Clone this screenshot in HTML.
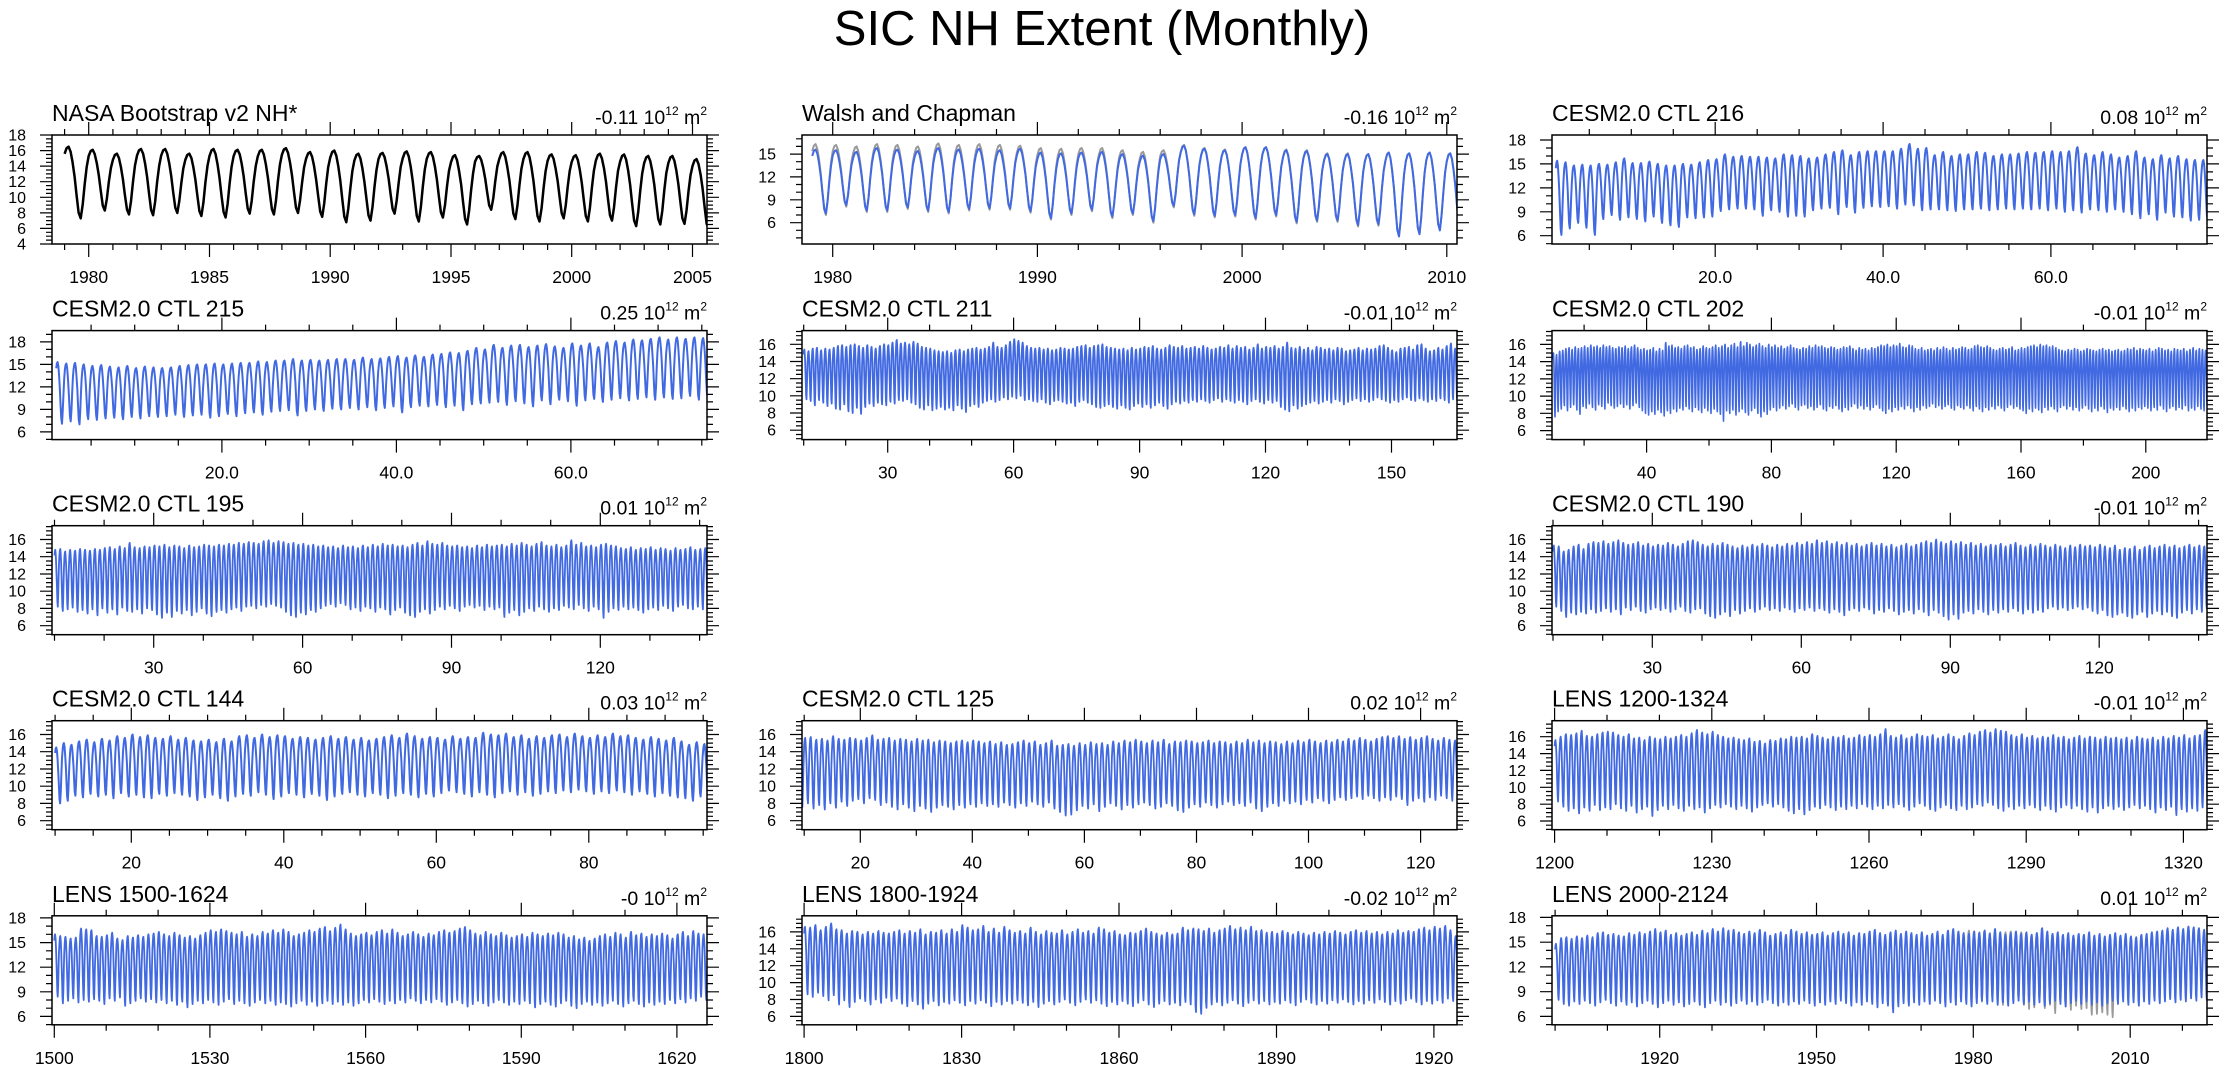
<!DOCTYPE html>
<html><head><meta charset="utf-8"><title>SIC NH Extent (Monthly)</title>
<style>
html,body{margin:0;padding:0;background:#fff;}
svg{display:block;font-family:"Liberation Sans",Arial,sans-serif;}
</style></head>
<body>
<svg id="chart" xmlns="http://www.w3.org/2000/svg" width="2229" height="1073" viewBox="0 0 2229 1073">
<text x="1102" y="45" font-size="49" text-anchor="middle">SIC NH Extent (Monthly)</text>
</svg>
<script>
// seasonal climatology fraction (Jan..Dec), 1 = annual max, 0 = annual min
const seasonShape=[0.90,0.98,1.0,0.93,0.78,0.58,0.32,0.08,0.0,0.2,0.5,0.75];

const nasaMax=[16.5,16.1,15.6,16.2,16.2,15.6,16.2,16.1,16.1,16.3,15.8,16.0,15.6,15.7,15.9,15.8,15.4,15.3,15.8,15.8,15.5,15.4,15.6,15.5,15.3,15.3,14.9];
const nasaMin=[7.3,8.3,7.8,7.7,8.0,7.6,7.4,7.9,7.8,8.0,7.5,6.8,7.0,7.9,6.9,7.4,6.5,8.4,7.2,6.9,7.3,6.9,7.0,6.3,6.5,6.6,5.9];

const walshMax=[15.6,15.5,15.3,15.8,15.6,15.4,15.8,15.6,15.7,15.5,15.7,15.2,15.1,15.2,15.3,15.0,14.8,15.0,16.1,15.7,15.5,15.9,15.9,15.5,15.4,15.0,15.0,15.0,15.2,15.1,15.2,15.1];
const walshMin=[7.2,8.3,7.6,7.6,8.0,7.6,7.4,7.8,7.9,7.9,7.5,6.6,7.2,7.7,6.8,7.2,6.2,8.2,7.1,6.9,7.0,6.6,7.0,6.1,6.3,6.3,5.7,5.8,4.2,4.5,5.0,5.0];
const walshRefMax=[16.3,16.2,16.0,16.3,16.2,16.0,16.4,16.2,16.3,16.2,16.1,15.8,15.7,15.8,15.8,15.5,15.3,15.5,16.2,15.8,15.6,15.9,15.9,15.6,15.5,15.1,15.1,15.0,15.2,15.1,15.2,15.1];
const walshRefMin=[7.0,8.1,7.4,7.4,7.8,7.4,7.2,7.6,7.7,7.7,7.3,6.4,7.0,7.5,6.6,7.0,6.0,8.0,6.9,6.7,6.8,6.4,6.8,5.9,6.1,6.1,5.5,5.6,4.2,4.5,5.0,5.0];

const ctl216Max=[15.4,15.2,14.8,14.9,14.8,15.0,14.9,15.2,15.7,15.1,
15.1,15.3,15.0,14.8,14.8,15.0,14.9,15.2,15.5,15.6,
16.2,15.9,16.0,15.9,15.9,15.8,15.7,16.2,16.1,16.0,
15.7,15.8,16.2,16.5,16.7,16.1,16.5,16.6,16.6,16.6,
16.6,16.9,17.5,16.9,17.0,16.1,16.5,16.0,16.2,16.2,
16.5,16.4,16.0,16.2,16.2,16.3,16.5,16.4,16.5,16.6,
16.5,16.6,17.1,16.3,16.1,16.5,16.2,15.8,16.0,16.6,
15.8,15.6,16.1,15.7,16.0,15.6,15.5,15.5];
const ctl216Min=[6.1,6.9,7.6,7.0,6.1,8.1,8.6,8.0,8.3,8.1,
7.8,8.4,7.6,7.3,7.1,8.3,8.2,8.3,8.4,9.1,
9.3,9.4,9.4,9.3,8.5,9.2,9.0,8.4,8.5,8.4,
9.2,9.4,9.5,8.7,9.6,8.9,9.5,9.7,9.6,9.7,
9.4,9.9,9.8,9.2,9.3,9.3,9.2,9.1,9.3,9.3,
9.4,9.2,9.3,9.4,9.3,9.4,9.3,9.4,9.2,9.4,
9.0,9.2,8.9,9.3,9.2,9.0,9.3,9.0,8.7,8.2,
8.7,8.0,8.9,8.4,8.3,7.9,8.0,8.0];

const ctl215Max=[15.3,15.1,15.2,15.0,14.8,14.9,14.7,14.6,14.8,14.5,
14.7,14.6,14.5,14.6,14.8,14.9,15.0,15.0,15.1,15.0,
15.1,15.2,15.2,15.4,15.3,15.5,15.5,15.7,15.5,15.6,
15.5,15.6,15.7,15.7,15.6,15.9,15.7,15.8,16.0,16.1,
15.9,16.2,16.0,16.3,16.4,16.6,16.5,16.8,17.2,17.0,
17.6,17.2,17.5,17.6,17.3,17.5,17.7,17.4,17.2,17.8,
17.5,17.8,17.3,17.9,18.1,17.9,18.3,18.2,18.4,18.6,
18.3,18.6,18.4,18.6,18.5];
const ctl215Min=[7.1,7.4,7.0,7.7,7.6,7.8,7.9,7.7,8.0,7.8,
8.1,8.0,8.1,8.3,8.0,8.2,8.3,7.9,8.1,8.4,
8.1,8.5,8.6,8.3,8.7,8.8,8.9,8.2,8.8,9.0,
8.8,9.1,9.0,9.2,9.0,9.3,8.9,9.2,9.4,8.6,
9.3,9.5,9.4,9.6,9.3,9.5,8.9,9.7,9.8,9.9,
10.0,9.6,10.1,9.8,9.4,10.2,9.7,10.3,10.1,9.5,
10.2,10.4,10.0,10.3,10.5,10.2,10.4,10.6,10.3,10.6,
10.4,10.5,10.8,10.3,10.6];

const ctl211Max=[15.4,15.2,15.5,15.6,15.3,15.5,15.4,15.6,15.8,15.9,
15.7,15.9,16.0,15.8,15.6,15.9,15.7,15.5,15.8,16.0,
15.9,16.2,16.5,16.1,16.2,16.0,16.3,16.1,15.7,15.6,
15.5,15.3,15.2,15.1,15.2,15.0,15.3,15.4,15.2,15.4,
15.5,15.6,15.4,15.5,15.7,16.2,15.7,15.6,15.9,16.3,
16.6,16.4,16.2,15.8,15.6,15.5,15.6,15.4,15.5,15.3,
15.4,15.6,15.5,15.4,15.5,15.7,15.8,15.9,15.6,15.8,
15.9,16.0,15.7,15.6,15.5,15.4,15.5,15.3,15.6,15.4,
15.5,15.7,15.6,15.8,15.5,15.4,15.6,15.9,15.7,15.6,
15.8,15.5,15.6,15.7,15.5,15.8,15.6,15.4,15.5,15.7,
15.6,15.9,15.5,15.8,15.6,15.7,15.4,15.6,16.0,15.5,
15.7,15.6,15.8,15.5,15.7,16.2,15.6,15.5,15.7,15.4,
15.6,15.3,15.7,15.6,15.4,15.5,15.3,15.6,15.5,15.2,
15.3,15.4,15.6,15.3,15.5,15.4,15.5,15.8,15.9,15.6,
15.3,15.1,15.5,15.6,15.7,15.4,15.9,16.0,15.5,15.2,
15.3,15.6,15.4,15.8,16.1,15.5];
const ctl211Min=[9.6,9.4,8.9,9.5,9.2,8.8,9.1,8.5,8.4,9.0,
8.2,8.0,8.6,7.9,8.7,9.1,8.8,9.2,9.0,8.9,
9.3,9.1,9.5,9.4,9.6,9.2,9.0,8.6,8.4,8.9,
8.3,8.5,8.7,8.4,8.6,8.3,8.9,8.5,8.1,8.8,
9.0,8.7,9.2,9.4,9.6,9.3,9.5,9.8,9.6,9.9,
9.7,10.0,9.5,9.6,9.4,9.3,9.6,9.2,9.0,9.4,
9.5,9.3,9.1,9.2,8.8,9.3,9.5,9.2,9.0,8.7,
8.6,8.8,9.0,8.7,8.5,8.9,8.6,8.4,8.8,9.1,
8.7,9.0,8.6,8.9,9.2,8.8,8.5,9.0,9.3,9.1,
9.4,9.2,9.5,9.3,9.6,9.4,9.2,9.5,9.7,9.3,
9.6,9.4,9.2,9.5,9.3,9.0,9.4,9.6,9.3,9.1,
9.5,9.2,9.4,8.7,8.4,8.2,8.9,8.5,8.8,9.0,
9.2,9.4,9.1,9.3,9.5,9.2,9.6,9.4,9.0,9.3,
9.5,9.7,9.4,9.6,9.3,9.5,9.8,9.6,9.4,9.2,
9.5,9.3,9.6,9.8,9.5,9.4,9.7,9.5,9.3,9.6,
9.4,9.7,9.5,9.2,9.6,9.4];

const ctl202Max=[15.0,14.8,15.2,15.3,15.5,15.6,15.4,15.7,15.5,15.6,
15.8,15.6,15.9,15.7,15.8,15.6,15.9,15.7,15.8,15.6,
15.5,15.7,15.6,15.8,15.5,15.7,15.9,15.6,15.4,15.5,
15.3,15.4,15.6,15.2,15.5,15.3,16.2,15.8,15.9,15.6,
15.7,15.5,15.8,15.9,15.6,15.7,15.4,15.5,15.8,15.6,
15.5,15.7,15.9,15.6,15.8,16.0,15.6,15.9,16.1,15.7,
16.3,15.8,16.2,16.0,15.7,15.9,16.1,15.8,15.6,16.0,
15.7,15.9,15.6,15.8,15.5,15.7,15.9,15.6,15.5,15.4,
15.6,15.5,15.8,15.6,15.9,15.7,15.8,15.6,15.5,15.7,
15.6,15.4,15.5,15.7,15.6,15.8,15.5,15.3,15.6,15.4,
15.5,15.3,15.6,15.5,15.7,15.9,15.8,16.0,15.7,15.9,
15.8,16.1,15.7,15.6,15.9,15.8,15.5,15.4,15.6,15.3,
15.4,15.5,15.3,15.6,15.4,15.7,15.5,15.3,15.6,15.4,
15.5,15.7,15.6,15.4,15.5,15.8,15.9,15.7,15.6,15.8,
15.6,15.4,15.3,15.5,15.6,15.4,15.5,15.7,15.3,15.4,
15.6,15.5,15.7,15.8,15.9,15.7,16.0,15.8,15.9,15.7,
15.8,15.6,15.4,15.3,15.2,15.4,15.3,15.5,15.4,15.2,
15.3,15.5,15.4,15.3,15.2,15.4,15.5,15.3,15.4,15.2,
15.3,15.4,15.2,15.3,15.5,15.4,15.6,15.3,15.5,15.4,
15.3,15.5,15.2,15.4,15.6,15.5,15.3,15.4,15.2,15.5,
15.4,15.3,15.5,15.2,15.4,15.6,15.3,15.5,15.4,15.3];
const ctl202Min=[7.6,8.2,8.5,8.9,8.3,8.7,9.0,8.4,7.9,8.8,
8.6,9.1,8.7,8.4,9.0,8.8,8.5,9.2,8.9,8.6,
8.8,9.1,8.7,9.0,8.5,8.9,9.2,8.7,8.3,8.0,
7.8,8.2,7.9,8.4,8.1,7.7,8.3,8.0,8.5,8.2,
8.6,8.4,8.8,8.5,8.2,8.7,8.4,8.1,8.6,8.3,
8.0,8.5,8.2,7.9,7.1,8.3,8.0,8.4,7.8,8.2,
8.5,8.1,7.8,8.3,8.6,8.0,7.6,8.2,7.9,8.4,
8.7,8.3,8.6,8.9,8.5,8.8,9.1,8.7,8.4,8.9,
9.0,8.6,8.8,8.4,8.7,9.0,8.5,8.3,8.8,8.6,
8.9,8.5,8.2,8.7,8.4,8.8,9.1,8.6,8.9,8.5,
8.8,8.4,8.7,9.0,8.6,8.3,8.0,8.5,8.2,8.7,
8.4,8.8,8.5,8.9,8.6,8.2,8.7,8.4,8.9,8.6,
8.8,9.1,8.7,8.9,8.5,8.8,9.0,8.6,8.4,8.9,
8.7,8.5,8.9,8.6,8.3,8.8,8.5,8.2,8.7,8.4,
8.8,8.5,8.9,8.6,8.3,8.7,9.0,8.6,8.8,8.5,
8.3,8.0,8.5,8.2,8.6,8.4,8.1,8.7,8.4,8.8,
8.5,8.2,8.7,8.9,8.5,8.8,8.4,8.7,8.3,8.6,
8.9,8.5,8.2,8.6,8.3,8.8,8.5,8.1,8.6,8.4,
8.7,8.4,8.8,8.5,8.2,8.6,8.3,8.7,8.5,8.8,
8.6,8.3,8.7,8.4,8.9,8.5,8.2,8.6,8.8,8.4,
8.7,8.5,8.9,8.3,8.6,8.4,8.8,8.5,8.3,8.9];

const ctl195Max=[14.8,14.9,14.6,14.8,14.7,14.9,14.8,14.7,14.9,14.8,
15.0,15.1,14.9,15.2,15.0,15.6,15.1,15.0,15.2,15.1,
15.3,15.2,15.4,15.1,15.3,15.2,15.0,15.3,15.1,15.2,
15.4,15.3,15.2,15.4,15.3,15.5,15.4,15.6,15.5,15.7,
15.6,15.5,15.8,15.9,15.6,15.8,15.7,15.5,15.6,15.4,
15.5,15.3,15.4,15.2,15.3,15.1,15.2,15.0,15.3,15.1,
15.2,15.0,15.3,15.1,15.4,15.2,15.5,15.3,15.4,15.2,
15.3,15.1,15.4,15.6,15.3,15.8,15.5,15.4,15.6,15.3,
15.2,15.3,15.1,15.2,15.0,15.3,15.1,15.4,15.2,15.3,
15.4,15.2,15.5,15.3,15.6,15.4,15.2,15.5,15.7,15.3,
15.2,15.4,15.1,15.3,15.9,15.4,15.6,15.2,15.3,15.1,
15.4,15.5,15.3,15.2,15.0,14.9,15.1,14.8,15.0,14.9,
15.1,14.8,15.0,14.9,14.7,15.0,14.8,14.9,15.1,14.8,
14.9,15.0];
const ctl195Min=[8.2,7.7,7.9,8.1,7.6,7.8,7.4,7.9,7.2,8.0,
7.5,7.9,7.3,8.1,7.7,7.6,7.9,7.4,8.0,7.8,
7.3,6.9,7.5,7.0,7.7,7.4,7.8,7.2,7.6,8.0,
7.4,7.1,7.6,7.8,7.5,7.9,8.1,7.7,8.2,8.3,
8.0,8.4,8.2,8.5,8.3,8.1,7.6,7.2,7.0,7.5,
7.3,7.8,7.6,8.0,8.3,8.5,8.2,8.6,8.4,7.9,
8.1,7.7,8.2,8.0,7.6,8.1,7.9,7.3,7.8,8.1,
7.5,7.2,7.0,7.6,7.9,7.4,7.8,8.2,7.9,8.3,
8.0,7.7,8.2,8.4,8.1,8.3,7.8,8.2,7.9,8.1,
7.0,7.5,7.8,7.2,7.6,8.0,7.7,8.2,7.9,7.6,
8.0,7.8,8.3,8.1,7.9,8.4,8.0,7.7,8.2,7.9,
6.9,7.6,8.0,7.8,8.2,7.9,8.1,7.8,7.5,7.9,
8.1,7.8,8.3,8.0,7.7,8.2,8.4,8.0,7.9,8.2,
7.9,8.1];

const ctl190Max=[15.3,15.2,14.6,14.8,15.2,15.4,14.9,15.5,15.7,15.6,
15.8,15.5,15.7,15.9,15.6,15.4,15.5,15.7,15.3,15.5,
15.2,15.4,15.3,15.6,15.4,15.2,15.5,15.8,15.9,15.7,
15.4,15.2,15.5,15.3,15.6,15.4,15.2,15.0,15.3,15.1,
15.4,15.2,15.5,15.3,15.1,15.4,15.2,15.5,15.3,15.6,
15.4,15.7,15.5,15.9,15.6,15.8,15.5,15.7,15.4,15.6,
15.3,15.5,15.2,15.4,15.6,15.3,15.5,15.2,15.4,15.1,
15.3,15.5,15.2,15.4,15.6,15.8,15.6,16.0,15.7,15.5,
15.8,15.5,15.7,15.4,15.6,15.3,15.5,15.2,15.4,15.3,
15.5,15.2,15.4,15.6,15.3,15.1,15.4,15.2,15.5,15.3,
15.1,15.4,15.2,15.0,15.3,15.1,15.4,15.2,15.3,15.1,
15.4,15.2,15.0,15.3,14.8,15.0,14.9,15.2,14.8,15.1,
15.3,15.0,15.2,15.4,15.1,15.3,15.0,15.2,15.4,15.1,
15.3,15.2];
const ctl190Min=[8.2,7.7,7.0,7.5,7.3,7.6,7.4,7.9,7.5,7.7,
8.0,7.6,7.9,7.3,8.1,7.8,8.2,7.7,7.5,7.9,
8.1,7.8,8.0,7.6,7.9,8.2,7.7,7.5,7.9,8.0,
7.4,7.1,6.9,7.3,7.6,7.1,7.8,7.4,7.7,8.0,
7.6,7.9,8.2,7.8,8.0,7.7,8.1,7.9,7.6,8.0,
7.8,8.1,7.7,8.0,7.8,7.5,7.9,7.6,7.2,7.8,
8.0,7.7,8.1,7.9,7.4,7.8,7.6,8.0,7.7,7.3,
7.6,7.8,7.4,7.9,7.6,7.2,7.8,7.5,7.1,6.7,
7.3,6.8,7.5,7.7,7.4,7.9,7.6,7.3,7.8,7.5,
7.9,7.6,8.0,7.7,7.4,7.9,7.5,7.8,7.6,8.0,
8.2,7.9,8.1,7.8,8.0,8.2,7.9,8.1,7.7,7.4,
7.8,7.2,7.0,7.3,7.5,7.1,6.9,7.3,7.6,7.0,
7.4,7.7,7.3,7.6,7.1,6.9,7.5,7.8,7.4,7.9,
7.6,8.0];

const ctl144Max=[14.5,15.0,14.8,15.2,15.4,15.1,15.5,15.3,15.8,15.6,
16.0,15.7,15.9,15.6,15.5,15.8,15.4,15.6,15.3,15.2,
15.4,15.1,15.5,15.2,15.8,15.9,15.6,16.0,15.7,15.9,
15.8,15.5,15.7,15.6,15.4,15.6,15.8,15.5,15.7,15.4,
15.6,15.3,15.5,15.7,15.9,15.6,16.1,15.8,15.5,15.7,
15.6,15.4,15.8,15.5,15.7,15.6,16.2,16.0,15.9,16.1,
15.7,15.9,15.5,15.8,15.6,15.9,16.0,15.7,16.1,15.8,
15.6,15.9,15.7,16.1,15.8,15.9,15.6,15.4,15.7,15.5,
15.3,15.6,15.2,14.8,15.1,14.9];
const ctl144Min=[8.0,8.3,8.9,8.7,9.1,8.8,9.0,8.6,9.2,8.8,
9.0,8.7,8.6,9.1,8.9,9.2,9.0,8.8,8.4,8.7,
9.0,8.6,8.3,8.8,9.1,8.9,9.3,9.0,8.5,8.8,
9.2,9.0,8.7,9.1,8.9,8.4,8.8,9.1,9.3,9.0,
8.8,9.2,9.0,8.6,8.9,9.2,9.0,8.7,9.1,8.8,
9.2,9.5,9.3,9.1,8.8,9.3,9.0,8.7,9.2,9.4,
9.0,9.3,8.9,9.1,9.4,9.2,9.5,9.3,9.6,9.4,
9.1,9.4,9.2,9.5,9.3,9.0,9.4,9.1,8.8,9.2,
8.9,8.7,8.6,8.3,8.8,8.5];

const ctl125Max=[16.0,15.7,15.8,15.6,15.7,15.4,15.5,15.3,15.8,15.5,
15.4,15.6,15.5,15.3,15.6,15.9,15.4,15.5,15.6,15.3,
15.5,15.4,15.2,15.5,15.3,15.4,15.1,15.3,15.2,15.0,
15.2,15.3,15.1,15.3,15.2,15.0,15.2,14.9,15.1,14.8,
14.9,15.1,15.3,15.0,15.2,14.8,15.0,15.3,14.7,14.8,
14.9,14.7,15.0,14.8,15.1,14.9,15.0,14.8,15.2,15.0,
15.3,15.1,15.4,15.2,15.0,15.3,15.1,15.4,14.9,15.2,
15.1,15.3,15.2,15.0,15.1,15.3,15.0,15.2,15.1,14.9,
15.2,15.0,15.4,15.1,15.3,15.0,15.2,15.1,14.9,15.2,
15.0,15.3,15.1,15.4,15.2,15.0,15.3,15.1,15.4,15.2,
15.5,15.3,15.6,15.4,15.2,15.5,15.7,15.8,15.6,15.8,
15.5,15.7,15.4,15.6,15.8,15.5,15.3,15.6,15.4,15.3];
const ctl125Min=[8.4,8.1,7.6,8.0,7.4,7.8,7.3,8.0,7.5,8.2,
7.7,8.3,8.5,8.0,8.6,8.4,7.8,8.1,7.6,7.3,
7.9,7.5,7.1,7.7,7.4,7.0,7.5,7.8,7.6,7.3,
7.8,7.5,7.9,7.6,8.0,7.7,7.9,7.6,8.1,7.8,
7.5,8.0,7.7,8.2,7.9,7.6,8.1,7.4,7.0,6.6,
6.7,7.2,7.7,7.4,7.9,7.1,7.6,8.0,7.7,7.3,
7.8,7.5,7.9,8.1,7.8,7.4,7.6,8.0,7.7,7.2,
7.0,7.5,7.9,7.6,8.1,7.8,7.5,7.9,8.2,7.8,
8.0,7.7,8.1,7.4,7.1,7.6,8.0,7.7,8.3,8.0,
8.2,7.9,8.4,8.1,8.6,8.3,8.0,8.4,8.7,8.4,
8.6,8.8,8.5,8.9,8.6,8.3,8.7,8.4,8.8,8.5,
7.8,8.3,8.6,8.2,8.7,8.4,8.9,8.6,8.3,8.8];

const lens1200Max=[15.6,16.0,16.3,16.2,16.4,16.7,16.1,16.0,16.3,16.5,
16.6,16.5,16.2,16.0,16.3,15.8,15.9,15.6,16.0,15.8,
15.7,16.0,15.8,16.0,16.2,16.0,16.4,16.8,16.5,16.3,
16.6,16.2,16.0,15.8,15.9,15.7,15.6,15.8,15.4,15.5,
15.2,15.6,15.5,15.8,15.7,16.0,15.9,16.0,15.8,16.3,
16.1,15.9,15.7,16.0,15.9,16.1,15.8,15.9,16.2,16.0,
16.2,16.0,16.3,16.9,16.1,15.9,16.2,15.8,16.0,16.3,
16.1,16.0,16.2,15.8,16.0,16.3,16.0,15.7,16.1,16.4,
16.2,16.6,16.8,16.5,16.9,16.7,16.6,16.2,16.0,16.3,
15.9,16.1,15.8,16.0,15.9,16.2,15.9,16.0,15.7,15.9,
16.1,15.8,16.0,15.9,15.7,16.0,15.8,15.9,15.7,15.9,
15.6,16.0,15.8,15.7,15.9,15.6,16.0,15.8,16.1,15.9,
16.2,15.8,16.1,16.2,16.8];
const lens1200Min=[8.3,7.7,7.2,7.5,6.9,7.6,7.2,7.9,7.3,7.6,
7.4,8.0,7.5,7.2,7.8,7.0,7.4,7.7,6.6,7.3,
7.8,7.4,7.9,7.5,7.2,7.8,7.4,7.6,7.0,7.5,
7.9,7.6,8.0,7.7,7.4,7.8,7.5,7.1,7.6,7.9,
8.1,7.7,8.0,7.6,7.2,6.9,7.4,6.8,7.3,7.7,
7.5,7.9,7.6,7.3,7.7,7.4,7.8,7.5,8.0,7.7,
7.4,7.8,7.5,7.9,7.6,8.0,7.7,7.3,7.7,8.1,
7.8,7.4,7.2,7.6,7.9,7.5,7.3,7.8,7.4,7.6,
8.0,7.8,8.2,7.9,7.5,7.2,7.7,7.4,7.8,7.5,
7.9,7.6,7.3,7.8,7.4,7.1,7.6,7.9,7.5,7.8,
7.4,7.1,7.6,7.0,7.5,7.8,7.4,7.7,7.3,7.6,
7.9,7.5,7.8,7.4,7.0,7.6,7.3,7.7,6.7,7.4,
7.1,7.5,7.2,7.6,7.3];

const lens1500Max=[16.0,15.8,15.7,15.5,15.6,16.7,16.6,16.5,15.8,15.7,
15.9,16.2,15.5,15.3,15.8,15.6,15.9,15.7,16.0,16.1,
16.3,16.0,15.8,16.2,15.9,15.6,15.8,15.5,15.9,16.2,
16.5,16.3,16.6,16.4,16.2,16.0,16.3,15.7,16.0,15.8,
16.3,16.1,16.5,16.2,16.6,16.3,15.8,16.0,16.2,16.5,
16.3,16.7,16.9,16.4,16.8,17.2,16.6,16.1,15.8,16.0,
16.2,15.9,16.3,16.5,16.1,16.6,16.2,15.8,16.0,16.3,
16.0,15.7,16.1,15.9,16.3,16.5,16.2,16.4,16.7,16.9,
16.5,16.1,15.9,16.3,16.0,15.8,16.2,15.9,15.6,15.8,
16.0,15.7,16.2,16.0,15.8,16.1,15.9,16.2,16.0,15.6,
15.8,15.4,15.6,15.2,15.5,15.8,16.0,15.7,16.2,16.0,
15.6,16.3,15.9,16.1,15.7,16.0,15.8,16.1,15.9,15.5,
16.0,16.3,15.8,16.4,16.1,16.0];
const lens1500Min=[8.4,7.6,7.9,8.2,7.7,8.0,7.8,8.1,7.9,7.5,
8.2,7.9,8.3,7.3,7.6,7.9,8.2,7.8,8.1,7.7,
8.0,7.6,7.9,7.4,7.8,7.1,7.5,7.9,7.6,8.0,
7.7,7.4,7.8,8.1,7.5,7.9,7.6,7.3,7.7,8.0,
7.6,7.9,7.4,7.7,7.5,7.2,7.6,7.9,7.4,7.8,
7.3,7.6,7.9,7.5,7.8,7.4,7.7,7.3,7.6,8.0,
7.7,8.1,7.8,7.5,7.9,7.6,8.0,7.7,8.2,7.9,
7.6,8.0,7.7,8.1,7.8,7.4,7.7,8.0,7.6,7.2,
7.5,7.9,7.6,7.3,7.7,8.0,7.7,7.4,7.8,7.5,
7.9,7.6,7.1,7.5,7.8,7.4,7.2,7.6,7.9,7.3,
7.0,7.5,7.8,7.4,7.7,7.3,7.6,7.9,7.5,7.2,
7.6,7.9,7.5,7.2,7.7,7.4,7.8,7.5,8.0,7.6,
8.1,7.7,8.2,7.9,8.4,8.0];

const lens1800Max=[16.6,16.5,16.8,16.2,16.6,17.0,16.3,16.2,15.8,16.1,
16.0,15.7,16.0,15.8,16.1,15.9,15.8,16.0,16.2,15.8,
16.1,15.9,16.3,15.7,16.0,15.9,16.2,15.8,16.3,16.0,
16.8,16.5,16.2,16.3,16.7,16.0,16.4,15.9,16.6,16.2,
15.9,16.1,15.8,16.5,16.0,15.7,16.1,15.9,15.8,16.2,
15.7,16.0,16.3,15.9,16.1,15.8,16.5,16.3,15.9,16.1,
15.7,15.6,15.9,15.8,16.1,16.4,16.0,15.8,15.6,15.9,
15.7,15.8,16.5,16.2,16.4,16.3,16.1,16.4,15.9,16.2,
16.4,16.7,16.3,16.5,16.2,16.6,16.1,16.2,15.9,16.0,
15.8,16.1,15.9,15.7,16.0,15.8,15.6,15.9,15.7,16.0,
15.8,16.1,15.9,15.7,16.0,16.2,15.9,16.1,15.8,16.0,
15.7,16.0,15.8,16.2,15.9,16.1,16.0,16.3,16.5,16.2,
16.6,16.4,16.7,16.2,15.5];
const lens1800Min=[8.6,8.3,8.8,8.4,7.9,8.5,7.4,7.9,7.1,7.7,
8.1,7.8,7.4,8.0,7.6,8.2,7.8,8.1,7.5,7.2,
7.8,7.4,6.9,7.5,7.8,7.3,7.7,7.5,7.9,7.6,
7.3,7.8,7.5,7.9,7.6,7.2,7.7,7.4,7.8,7.5,
7.9,7.6,7.3,7.7,7.1,7.5,7.8,7.4,7.7,8.0,
7.6,7.3,7.7,8.0,7.6,7.9,7.5,7.2,7.7,7.4,
7.8,7.5,7.2,7.6,7.9,7.4,7.1,7.5,7.8,7.4,
7.6,7.3,7.7,7.4,6.5,6.3,7.0,7.4,7.7,7.3,
7.6,7.9,7.5,7.2,7.6,7.9,7.5,7.8,7.4,7.7,
7.5,7.9,7.6,7.3,7.7,8.0,7.6,7.4,7.8,7.5,
7.9,7.6,8.0,7.7,7.4,7.8,7.5,7.9,7.6,8.0,
7.7,7.4,7.8,7.5,7.9,8.1,7.7,7.4,7.8,7.5,
7.9,7.6,8.1,7.8,8.2];

const lens2000Max=[14.8,15.5,15.6,15.4,15.7,15.5,15.8,15.6,16.1,16.2,
15.9,16.0,15.8,15.7,16.1,15.9,16.2,16.0,16.3,16.6,
16.2,16.4,15.9,16.1,15.8,16.0,16.2,15.9,16.4,16.1,
16.6,16.3,16.7,16.4,16.5,16.2,16.0,16.3,16.1,16.5,
16.2,15.8,16.0,16.2,15.9,16.5,16.3,16.0,16.2,15.9,
16.0,16.2,15.8,16.1,16.3,16.0,16.2,15.8,16.1,16.0,
16.3,16.5,16.1,15.9,16.2,16.4,16.0,16.3,16.1,15.9,
16.2,15.8,16.0,16.3,15.9,16.4,16.6,16.3,16.1,16.0,
16.3,16.1,16.4,16.0,16.6,16.2,15.9,16.1,16.3,16.0,
16.2,15.9,16.1,16.7,16.3,16.0,16.2,15.9,16.1,15.8,
16.0,15.9,16.2,15.8,16.0,15.7,15.9,16.1,15.8,16.0,
15.7,15.6,15.9,16.0,16.2,16.3,16.4,16.7,16.5,16.8,
16.6,16.9,16.8,16.7,16.5];
const lens2000Min=[8.0,7.5,7.3,7.8,7.5,7.9,7.6,7.3,7.7,8.0,
7.6,7.3,7.8,7.4,7.7,7.2,7.6,7.9,7.5,7.1,
7.6,7.9,7.4,7.7,7.2,7.5,7.8,7.4,7.1,7.6,
7.9,7.4,7.7,7.3,7.6,7.9,7.5,7.8,7.4,7.7,
8.0,7.6,7.3,7.7,7.4,7.8,7.5,7.9,7.6,7.3,
7.7,7.4,7.8,7.5,7.9,7.6,7.3,7.7,7.4,7.8,
7.5,7.1,7.6,7.3,6.5,7.2,7.6,7.3,7.7,7.4,
7.8,7.5,7.9,7.6,7.2,7.7,7.4,7.8,7.5,7.2,
7.6,7.9,7.5,7.8,7.4,7.7,7.3,7.6,7.9,7.5,
7.8,7.4,7.7,7.3,7.6,7.9,7.5,7.2,7.6,7.9,
7.5,7.8,7.4,7.7,7.3,7.6,7.9,7.5,7.8,7.4,
7.7,7.3,7.8,7.5,7.9,7.6,7.8,8.1,7.7,8.0,
7.8,8.2,7.9,8.3,8.0];
const obsOverlayMax=[16.4,16.3,16.2,16.4,16.1,16.3,16.0,16.2,16.3,16.1,16.2,16.0,15.9,16.1,16.0,15.8,16.0,15.9,15.7,15.8,15.6,15.7,15.5,15.6,15.4,15.3,15.4,15.2];
const obsOverlayMin=[7.3,8.3,7.8,7.7,8.1,7.6,7.4,7.9,7.8,8.0,7.4,6.9,7.1,7.9,7.0,7.4,6.4,8.3,7.2,6.8,7.3,6.9,7.0,6.2,6.3,6.5,6.2,5.9];

const panelTitles=["NASA Bootstrap v2 NH*","Walsh and Chapman","CESM2.0 CTL 216","CESM2.0 CTL 215","CESM2.0 CTL 211","CESM2.0 CTL 202","CESM2.0 CTL 195","CESM2.0 CTL 190","CESM2.0 CTL 144","CESM2.0 CTL 125","LENS 1200-1324","LENS 1500-1624","LENS 1800-1924","LENS 2000-2124"];
const trendLabels=["-0.11","-0.16","0.08","0.25","-0.01","-0.01","0.01","-0.01","0.03","0.02","-0.01","-0","-0.02","0.01"];

const NS="http://www.w3.org/2000/svg";
const svg=document.getElementById('chart');
const colX=[52,802,1552], rowY=[135,330.6,525.7,720.7,915.8], PW=655, PH=109;
const BLUE="#4169e1", GRAY="#9a9a9a";

function mk(tag,attrs,parent){const e=document.createElementNS(NS,tag);for(const k in attrs)e.setAttribute(k,attrs[k]);parent.appendChild(e);return e;}

function buildSeries(maxA,minA,startYear,startMonth){
  const pts=[];
  for(let y=0;y<maxA.length;y++){
    for(let m=0;m<12;m++){
      if(y===0&&m<startMonth)continue;
      const lo=minA[y];
      const hi=(m>=9&&y+1<maxA.length)?maxA[y+1]:maxA[y];
      pts.push([startYear+y+m/12, lo+(hi-lo)*seasonShape[m]]);
    }
  }
  return pts;
}

const panels=[
 {col:0,row:0,x0:1978.48,x1:2005.6,y0:4,y1:18,xs:5,xm:1,ys:2,ym:0.5,fmt:0,series:[{mx:nasaMax,mn:nasaMin,s:1979,sm:0,c:"#000",w:2.5}]},
 {col:1,row:0,x0:1978.5,x1:2010.5,y0:3.2,y1:17.5,xs:10,xm:2,ys:3,ym:1,fmt:0,series:[{mx:walshRefMax,mn:walshRefMin,s:1979,sm:0,c:GRAY,w:2},{mx:walshMax,mn:walshMin,s:1979,sm:0,c:BLUE,w:2}]},
 {col:2,row:0,x0:0.55,x1:78.6,y0:4.96,y1:18.63,xs:20,xm:5,ys:3,ym:1,fmt:1,series:[{mx:ctl216Max,mn:ctl216Min,s:1,sm:0,c:BLUE,w:2}]},
 {col:0,row:1,x0:0.52,x1:75.6,y0:4.98,y1:19.5,xs:20,xm:5,ys:3,ym:1,fmt:1,series:[{mx:ctl215Max,mn:ctl215Min,s:1,sm:0,c:BLUE,w:2}]},
 {col:1,row:1,x0:9.6,x1:165.6,y0:4.9,y1:17.6,xs:30,xm:10,ys:2,ym:0.5,fmt:0,series:[{mx:ctl211Max,mn:ctl211Min,s:10,sm:0,c:BLUE,w:1.8}]},
 {col:2,row:1,x0:9.7,x1:219.6,y0:4.95,y1:17.6,xs:40,xm:20,ys:2,ym:0.5,fmt:0,series:[{mx:ctl202Max,mn:ctl202Min,s:10,sm:0,c:BLUE,w:1.6}]},
 {col:0,row:2,x0:9.5,x1:141.5,y0:4.95,y1:17.6,xs:30,xm:10,ys:2,ym:0.5,fmt:0,series:[{mx:ctl195Max,mn:ctl195Min,s:10,sm:0,c:BLUE,w:1.8}]},
 {col:2,row:2,x0:9.8,x1:141.7,y0:4.95,y1:17.6,xs:30,xm:10,ys:2,ym:0.5,fmt:0,series:[{mx:ctl190Max,mn:ctl190Min,s:10,sm:0,c:BLUE,w:1.8}]},
 {col:0,row:3,x0:9.6,x1:95.5,y0:4.95,y1:17.6,xs:20,xm:5,ys:2,ym:0.5,fmt:0,series:[{mx:ctl144Max,mn:ctl144Min,s:10,sm:0,c:BLUE,w:2}]},
 {col:1,row:3,x0:9.6,x1:126.5,y0:4.95,y1:17.6,xs:20,xm:10,ys:2,ym:0.5,fmt:0,series:[{mx:ctl125Max,mn:ctl125Min,s:7,sm:0,c:BLUE,w:1.8}]},
 {col:2,row:3,x0:1199.5,x1:1324.5,y0:4.97,y1:17.9,xs:30,xm:10,ys:2,ym:0.5,fmt:0,series:[{mx:lens1200Max,mn:lens1200Min,s:1200,sm:0,c:BLUE,w:1.8}]},
 {col:0,row:4,x0:1499.56,x1:1625.8,y0:4.98,y1:18.26,xs:30,xm:10,ys:3,ym:1,fmt:0,series:[{mx:lens1500Max,mn:lens1500Min,s:1500,sm:0,c:BLUE,w:1.8}]},
 {col:1,row:4,x0:1799.6,x1:1924.4,y0:5.0,y1:17.9,xs:30,xm:10,ys:2,ym:0.5,fmt:0,series:[{mx:lens1800Max,mn:lens1800Min,s:1800,sm:0,c:BLUE,w:1.8}]},
 {col:2,row:4,x0:1899.4,x1:2024.7,y0:4.98,y1:18.2,xs:30,xm:10,ys:3,ym:1,fmt:0,series:[{mx:obsOverlayMax,mn:obsOverlayMin,s:1979,sm:0,c:GRAY,w:1.8},{mx:lens2000Max,mn:lens2000Min,s:1900,sm:0,c:BLUE,w:1.8}]}
];

function isMult(v,step){const r=v/step;return Math.abs(r-Math.round(r))<1e-6;}

panels.forEach((p,i)=>{
  const L=colX[p.col],T=rowY[p.row];
  const sx=v=>L+(v-p.x0)/(p.x1-p.x0)*PW;
  const sy=v=>T+PH-(v-p.y0)/(p.y1-p.y0)*PH;
  const g=mk('g',{},svg);
  
  
  const cp=mk('clipPath',{id:'clip'+i},g);
  mk('rect',{x:L,y:T,width:PW,height:PH},cp);
  const sg=mk('g',{'clip-path':'url(#clip'+i+')'},g);
  
  
  p.series.forEach((s)=>{
    const pts=buildSeries(s.mx,s.mn,s.s,s.sm);
    const pl=mk('polyline',{points:pts.map(q=>sx(q[0]).toFixed(1)+','+sy(q[1]).toFixed(1)).join(' '),fill:'none',stroke:s.c,'stroke-width':s.w,'stroke-linejoin':'round'},sg);
    
    
  });
  const box=mk('rect',{x:L,y:T,width:PW,height:PH,fill:'none',stroke:'#000','stroke-width':1.5},g);
  
  
  let d='';
  for(let k=Math.ceil(p.y0/p.ym-1e-9);k*p.ym<=p.y1+1e-9;k++){
    const v=k*p.ym, y=sy(v), major=isMult(v,p.ys), len=major?12:6;
    d+=`M${L} ${y.toFixed(1)}h${-len}M${L+PW} ${y.toFixed(1)}h${len}`;
  }
  for(let k=Math.ceil(p.x0/p.xm-1e-9);k*p.xm<=p.x1+1e-9;k++){
    const v=k*p.xm, x=sx(v), major=isMult(v,p.xs), len=major?13:6;
    d+=`M${x.toFixed(1)} ${T+PH}v${len}M${x.toFixed(1)} ${T}v${-len}`;
  }
  const tk=mk('path',{d:d,stroke:'#000','stroke-width':1.2,fill:'none'},g);
  
  
  for(let k=Math.ceil(p.y0/p.ys-1e-9);k*p.ys<=p.y1+1e-9;k++){
    const v=k*p.ys;
    const t=mk('text',{x:L-26,y:(sy(v)+5.5).toFixed(1),'font-size':16,'text-anchor':'end'},g);
    t.textContent=String(Math.round(v));
    
    
  }
  for(let k=Math.ceil(p.x0/p.xs-1e-9);k*p.xs<=p.x1+1e-9;k++){
    const v=k*p.xs;
    const t=mk('text',{x:sx(v).toFixed(1),y:T+PH+39,'font-size':17.5,'text-anchor':'middle'},g);
    t.textContent=p.fmt?v.toFixed(1):String(Math.round(v));
    
    
  }
  const ti=mk('text',{x:L,y:T-14,'font-size':23},g);
  ti.textContent=panelTitles[i];
  
  
  const rl=mk('text',{x:L+PW,y:T-11,'font-size':19.5,'text-anchor':'end'},g);
  
  
  rl.appendChild(document.createTextNode(trendLabels[i]+' 10'));
  const s1=mk('tspan',{dy:-9,'font-size':12},rl); s1.textContent='12';
  const s2=mk('tspan',{dy:9},rl); s2.textContent=' m';
  const s3=mk('tspan',{dy:-9,'font-size':12},rl); s3.textContent='2';
});
</script>
</body></html>
